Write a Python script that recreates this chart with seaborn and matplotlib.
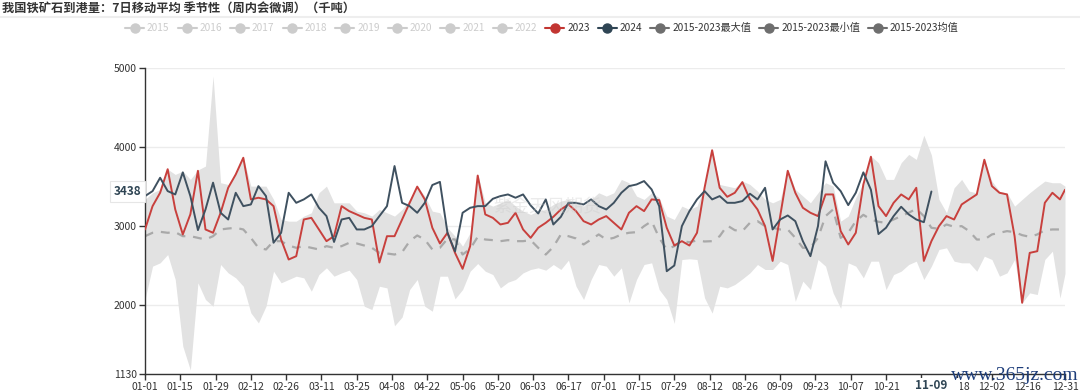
import numpy as np
import pandas as pd
import matplotlib
matplotlib.use("Agg")
import matplotlib.pyplot as plt
import seaborn as sns
from matplotlib.lines import Line2D
from matplotlib.patches import Rectangle

# ---------------- data (day index from 01-01, 2024 calendar) ----------------
days = list(range(0, 364, 3)) + [365]

red_2023 = [2958, 3253, 3422, 3720, 3211, 2895, 3150, 3700, 2958, 2916,
            3169, 3485, 3654, 3865, 3338, 3359, 3338, 3253, 2831, 2578,
            2620, 3084, 3105, 2958, 2810, 2873, 3253, 3190, 3148, 3105,
            3084, 2540, 2873, 2873, 3084, 3295, 3500, 3338, 2979, 2781,
            2916, 2662, 2460, 2747, 3640, 3148, 3105, 3021, 3042, 3169,
            2958, 2852, 2979, 3042, 3118, 3211, 3274, 3190, 3063, 3021,
            3084, 3127, 3042, 2958, 3169, 3253, 3190, 3338, 3329, 2979,
            2755, 2810, 2755, 2916, 3485, 3960, 3485, 3371, 3422, 3557,
            3338, 3211, 3000, 2560, 3127, 3700, 3422, 3232, 3169, 3127,
            3401, 3401, 2937, 2768, 2916, 3527, 3878, 3253, 3127, 3295,
            3401, 3338, 3485, 2560, 2810, 3000, 3127, 3084, 3274, 3338,
            3401, 3840, 3506, 3422, 3401, 2873, 2030, 2662, 2683, 3295,
            3422, 3338, 3460]

blue_2024 = [3380, 3443, 3612, 3443, 3401, 3680, 3380, 2950, 3211, 3550,
             3169, 3084, 3422, 3253, 3274, 3506, 3380, 2790, 2916, 3422,
             3295, 3338, 3401, 3232, 3127, 2800, 3084, 3105, 2958, 2958,
             3000, 3127, 3253, 3760, 3295, 3253, 3169, 3295, 3520, 3560,
             2916, 2680, 3169, 3232, 3253, 3253, 3346, 3380, 3401, 3359,
             3401, 3262, 3160, 3338, 3021, 3118, 3295, 3295, 3274, 3338,
             3253, 3211, 3295, 3422, 3506, 3527, 3570, 3464, 3253, 2430,
             2502, 3000, 3190, 3338, 3443, 3338, 3380, 3295, 3295, 3317,
             3410, 3338, 3485, 2958, 3084, 3135, 3063, 2810, 2620, 3000,
             3820, 3549, 3443, 3266, 3422, 3680, 3460, 2900, 2980, 3127,
             3245, 3148, 3084, 3050, 3438]

max_2015_2023 = [3338, 3422, 3464, 3720, 3654, 3696, 3591, 3710, 3760, 4900,
                 3549, 3527, 3660, 3870, 3506, 3506, 3506, 3338, 3084, 3063,
                 3063, 3127, 3169, 3422, 3506, 3295, 3295, 3295, 3190, 3169,
                 3127, 3211, 3169, 3127, 3211, 3338, 3506, 3380, 3190, 3169,
                 2979, 2873, 2747, 2916, 3654, 3295, 3253, 3295, 3338, 3253,
                 3190, 3148, 3190, 3211, 3274, 3317, 3338, 3295, 3253, 3338,
                 3422, 3380, 3422, 3591, 3549, 3380, 3338, 3422, 3360, 3127,
                 3084, 3253, 3211, 3253, 3500, 3975, 3527, 3506, 3485, 3570,
                 3527, 3443, 3338, 3295, 3338, 3710, 3464, 3380, 3295, 3422,
                 3549, 3506, 3063, 3127, 3359, 3549, 3886, 3802, 3591, 3591,
                 3802, 3907, 3844, 4150, 3900, 3338, 3169, 3485, 3591, 3443,
                 3420, 3844, 3570, 3440, 3420, 3253, 3338, 3422, 3498, 3570,
                 3549, 3549, 3506]

min_2015_2023 = [2072, 2494, 2536, 2641, 2325, 1481, 1180, 2283, 2072, 1987,
                 2515, 2409, 2346, 2240, 1903, 1776, 1987, 2430, 2283, 2325,
                 2367, 2346, 2177, 2388, 2473, 2367, 2409, 2443, 2325, 1987,
                 1945, 2240, 2219, 1740, 1850, 2198, 2325, 1987, 1924, 2367,
                 2367, 2080, 2198, 2430, 2527, 2430, 2388, 2219, 2291, 2325,
                 2409, 2452, 2473, 2443, 2515, 2452, 2570, 2240, 2072, 2325,
                 2515, 2494, 2367, 2473, 2030, 2325, 2515, 2536, 2198, 2072,
                 1770, 2578, 2587, 2578, 2093, 1900, 2240, 2219, 2262, 2333,
                 2409, 2515, 2452, 2452, 2557, 2515, 2050, 2304, 2198, 2578,
                 2494, 2156, 1960, 2536, 2494, 2346, 2557, 2557, 2198, 2388,
                 2430, 2515, 2557, 2325, 2494, 2705, 2726, 2557, 2536, 2536,
                 2430, 2620, 2578, 2367, 2409, 2578, 2030, 2156, 2135, 2578,
                 2683, 2090, 2400]

mean_2015_2023 = [2873, 2916, 2928, 2916, 2924, 2873, 2873, 2852, 2831, 2873,
                  2958, 2970, 2979, 2958, 2852, 2726, 2705, 2810, 2810, 2755,
                  2726, 2747, 2726, 2705, 2747, 2726, 2747, 2789, 2781, 2755,
                  2726, 2662, 2654, 2641, 2671, 2810, 2882, 2831, 2705, 2726,
                  2840, 2831, 2641, 2713, 2865, 2831, 2823, 2810, 2823, 2810,
                  2810, 2823, 2726, 2641, 2738, 2895, 2873, 2844, 2768, 2831,
                  2895, 2831, 2852, 2895, 2916, 2924, 3000, 3063, 2852, 2705,
                  2747, 2810, 2797, 2819, 2806, 2810, 2873, 3008, 2949, 2937,
                  3042, 3063, 3000, 2979, 2958, 2958, 2852, 2726, 2726, 2852,
                  3127, 3211, 2852, 2916, 3063, 3143, 3084, 3055, 3042, 3084,
                  3127, 3169, 3219, 3127, 2979, 2966, 3021, 2992, 3000, 2937,
                  2831, 2831, 2895, 2916, 2937, 2924, 2886, 2865, 2895, 2949,
                  2958, 2958, 2958]

y_ticks = [1130, 2000, 3000, 4000, 5000]
title_text = "我国铁矿石到港量：7日移动平均 季节性（周内会微调）（千吨）"
legend_years_off = ["2015", "2016", "2017", "2018", "2019", "2020", "2021", "2022"]
legend_on = [("2023", "#c23531"), ("2024", "#2f4554"),
             ("2015-2023最大值", "#6e6e6e"), ("2015-2023最小值", "#6e6e6e"),
             ("2015-2023均值", "#6e6e6e")]
last_day_label = "11-09"
last_value_label = "3438"

# ---------------- frames ----------------
base = pd.Timestamp("2024-01-01")
band = pd.DataFrame({"day": days, "max": max_2015_2023, "min": min_2015_2023,
                     "mean": mean_2015_2023, "y2023": red_2023})
d24 = pd.DataFrame({"day": days[:len(blue_2024)], "y2024": blue_2024})

# ---------------- figure ----------------
sns.set_theme(style="white")
plt.rcParams["font.family"] = ["Noto Sans CJK SC", "DejaVu Sans"]
plt.rcParams["axes.unicode_minus"] = False

W, H = 1080, 391
fig = plt.figure(figsize=(W / 100, H / 100), dpi=100)
fig.patch.set_facecolor("white")

def fx(px):
    return px / W

def fy(py):
    return 1 - py / H

ax = fig.add_axes([fx(145), fy(374), fx(1065) - fx(145), fy(68) - fy(374)])
ax.set_facecolor("white")

ax.fill_between(band["day"], band["min"], band["max"], color="#e2e2e2",
                linewidth=0, zorder=1)
sns.lineplot(data=band, x="day", y="mean", ax=ax, color="#a9a9a9", lw=1.6,
             zorder=2)
ax.lines[-1].set_dashes([4, 3.5])
sns.lineplot(data=band, x="day", y="y2023", ax=ax, color="#c8403d", lw=1.4,
             zorder=3)
sns.lineplot(data=d24, x="day", y="y2024", ax=ax, color="#3f5160", lw=1.4,
             zorder=4)

last_day = days[len(blue_2024) - 1]

ax.set_xlim(0, 365)
ax.set_ylim(y_ticks[0], y_ticks[-1])
ax.set_yticks(y_ticks)
ax.set_yticklabels([str(v) for v in y_ticks])
xt = list(range(0, 351, 14)) + [365]
ax.set_xticks(xt)
xlabels = []
for d in xt:
    lab = (base + pd.Timedelta(days=d)).strftime("%m-%d")
    # the label right before the highlighted date is hidden under it
    if 0 < last_day - d < 14:
        lab = ""
    xlabels.append(lab)
ax.set_xticklabels(xlabels)
ax.set_xlabel("")
ax.set_ylabel("")

ax.yaxis.grid(True, color="#ececec", lw=1)
ax.xaxis.grid(False)
for s in ["top", "right"]:
    ax.spines[s].set_visible(False)
for s in ["left", "bottom"]:
    ax.spines[s].set_color("#333333")
    ax.spines[s].set_linewidth(1)
ax.tick_params(axis="both", direction="out", length=4, width=1, color="#333333",
               labelsize=7.5, labelcolor="#333333", pad=2, left=True, bottom=True)

# highlighted axis-pointer label on x (white plate hides neighbour label part)
xtr = ax.get_xaxis_transform()
ax.add_patch(Rectangle((last_day - 7.3, -0.058), 18.6, 0.045, transform=xtr,
                       facecolor="white", edgecolor="none", zorder=9,
                       clip_on=False))
ax.text(last_day, -0.016, last_day_label, transform=xtr,
        ha="center", va="top", fontsize=8.5, weight="bold", color="#2f4554",
        zorder=10, clip_on=False)
ax.text(-0.004, float(last_value_label), last_value_label,
        transform=ax.get_yaxis_transform(), ha="right", va="center",
        fontsize=8.5, weight="bold", color="#2f4554", zorder=10, clip_on=False,
        bbox=dict(boxstyle="square,pad=0.3", fc="white", ec="#e6e6e6", lw=0.8))

# faint centre watermark
ax.text(0.437, 0.545, "紫金天风期货", transform=ax.transAxes, ha="center",
        va="center", fontsize=13, color="#c8c8c8", alpha=0.35, zorder=5)

# title + separator
fig.text(fx(2), fy(8), title_text, ha="left", va="center", fontsize=8.8,
         weight="bold", color="#333333")
fig.add_artist(Line2D([0, 1], [fy(17), fy(17)], transform=fig.transFigure,
                      color="#eeeeee", lw=1.5))

# legend drawn as a row
fig.canvas.draw()
renderer = fig.canvas.get_renderer()
x = 125
ly = fy(28)
items = [(t, "#cccccc", "#cccccc") for t in legend_years_off] + \
        [(t, c, "#333333") for t, c in legend_on]
for label, icol, tcol in items:
    fig.add_artist(Line2D([fx(x), fx(x + 19)], [ly, ly], transform=fig.transFigure,
                          color=icol, lw=1.5))
    fig.add_artist(Line2D([fx(x + 9.5)], [ly], transform=fig.transFigure,
                          marker="o", markersize=6.5, color=icol, lw=0))
    t = fig.text(fx(x + 22), ly, label, ha="left", va="center", fontsize=7.3,
                 color=tcol)
    w = t.get_window_extent(renderer=renderer).width
    x = x + 22 + w + 8

# site stamp bottom right
fig.text(fx(1015), fy(376), "www.365jz.com", ha="center", va="center",
         fontsize=14, family="Liberation Serif", color="#1d3d7a")

fig.savefig("out.png", dpi=100, facecolor="white")
